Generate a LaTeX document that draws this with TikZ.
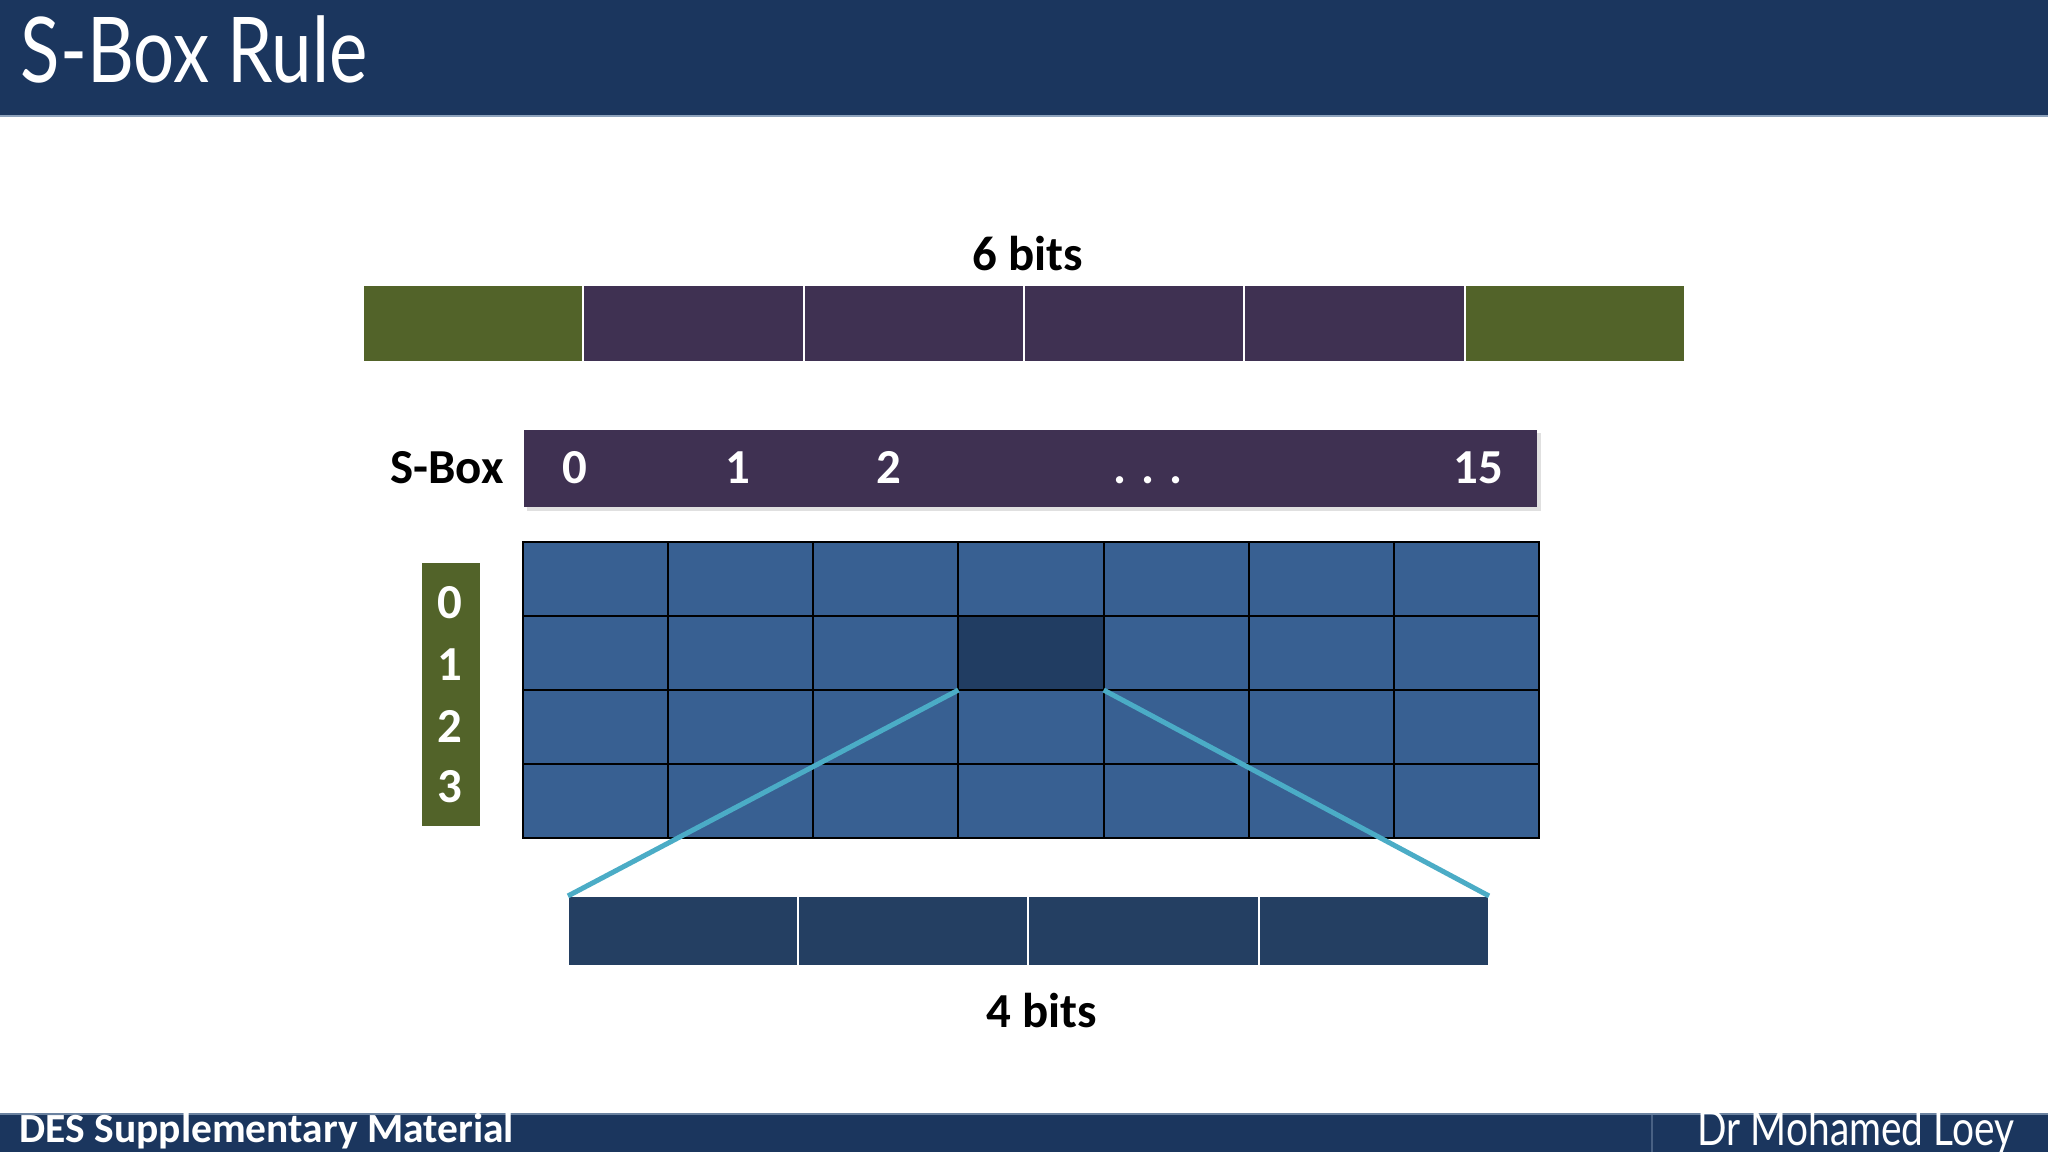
\documentclass[tikz,border=0pt]{standalone}
\usepackage{fontspec}
\setmainfont{Carlito}
\newfontfamily\titolofont[FakeStretch=0.8]{Lato}
\usetikzlibrary{positioning}
\definecolor{blutitolo}{HTML}{1B365E}
\definecolor{lineachiara}{HTML}{8DA2BC}
\definecolor{verdebit}{HTML}{526329}
\definecolor{violabit}{HTML}{3F3152}
\definecolor{blucella}{HTML}{386092}
\definecolor{bluscuro}{HTML}{213D62}
\definecolor{bluuscita}{HTML}{243F62}
\definecolor{ciano}{HTML}{4BACC6}

\begin{document}
\begin{tikzpicture}[x=0.01cm, y=-0.01cm,
    etichetta/.style={font=\fontsize{13.9}{16}\selectfont\bfseries, anchor=base, inner sep=0pt},
    cifra/.style={etichetta, text=white},
    bitcella/.style={minimum width=2.203cm, minimum height=0.77cm, inner sep=0pt, outer sep=0pt, draw=white, line width=0.02cm},
    cella/.style={minimum width=1.4514cm, minimum height=0.74cm, inner sep=0pt, outer sep=0pt, draw=black, line width=0.02cm, fill=blucella},
    uscita/.style={minimum width=2.3025cm, minimum height=0.70cm, inner sep=0pt, outer sep=0pt, draw=white, line width=0.02cm, fill=bluuscita},
    raggio/.style={draw=ciano, line width=0.05cm}]
    \useasboundingbox (0,0) rectangle (2048,1152);
    % Barra titolo
    \fill[blutitolo] (0,0) rectangle (2048,115);
    \fill[lineachiara] (0,115) rectangle (2048,117);
    \node[anchor=base west, inner sep=0pt, text=white, font=\titolofont\fontsize{25.8}{30}\selectfont] (titolo) at (20,83) {S-Box Rule};
    % Piede
    \fill[blutitolo] (0,1113) rectangle (2048,1152);
    \fill[lineachiara!70!blutitolo] (0,1113) rectangle (2048,1115);
    \fill[lineachiara!40!blutitolo] (1651,1115) rectangle (1653,1152);
    \node[anchor=base west, inner sep=0pt, text=white, font=\fontsize{11.8}{14}\selectfont\bfseries] (corso) at (19,1142) {DES Supplementary Material};
    \node[anchor=base west, inner sep=0pt, text=white, font=\titolofont\fontsize{13.8}{16}\selectfont] (autore) at (1697,1145) {Dr Mohamed Loey};
    % Ingresso a 6 bit
    \foreach \i/\col in {0/verdebit, 1/violabit, 2/violabit, 3/violabit, 4/violabit, 5/verdebit}
        \node[bitcella, fill=\col] (in\i) at ({473.2+220.3*\i},323.5) {};
    \node[etichetta] (seibit) at (1028,271) {6 bits};
    % Intestazione S-Box
    \fill[black!12] (527,433) rectangle (1541,511);
    \node[minimum width=10.13cm, minimum height=0.77cm, inner sep=0pt, fill=violabit] (intest) at (1030.5,468.5) {};
    \node[etichetta] (sbox) at (447,484) {S-Box};
    \foreach \x/\t [count=\k] in {575/0, 738/1, 889/2, 1148/{. . .}, 1478/15}
        \node[cifra] (col\k) at (\x,484) {\t};
    % Righe
    \node[minimum width=0.58cm, minimum height=2.63cm, inner sep=0pt, fill=verdebit] (righe) at (451,694.5) {};
    \foreach \y/\t in {618/0, 680/1, 742/2, 802/3}
        \node[cifra] (riga\t) at (450,\y) {\t};
    % Tabella
    \foreach \r in {0,...,3}
        \foreach \c in {0,...,6}
            \node[cella] (c-\r-\c) at ({595.6+145.14*\c},{579+74*\r}) {};
    \node[cella, fill=bluscuro] (scelta) at (c-1-3) {};
    % Uscita a 4 bit
    \foreach \i in {0,...,3}
        \node[uscita] (out\i) at ({683.1+230.25*\i},931) {};
    \node[etichetta] (quattrobit) at (1042,1027) {4 bits};
    % Raggi
    \draw[raggio] (scelta.south west) -- (out0.north west);
    \draw[raggio] (scelta.south east) -- (out3.north east);
\end{tikzpicture}
\end{document}
